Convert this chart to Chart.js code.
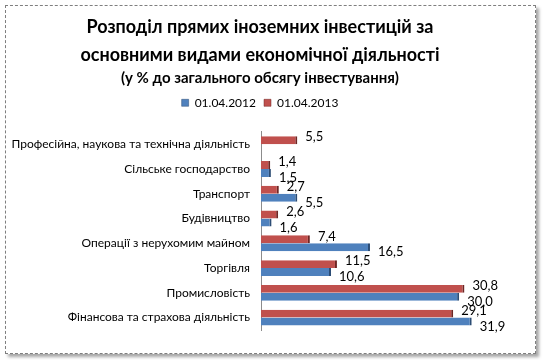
<!DOCTYPE html>
<html>
<head>
<meta charset="utf-8">
<script src="https://cdn.jsdelivr.net/npm/chart.js@4"></script>
<style>
  body { margin: 0; background: #fff; }
  #frame {
    position: absolute; left: 5px; top: 5px; width: 529px; height: 347px;
    border: 1px dashed #7f7f7f; box-shadow: 3px 3px 3px rgba(0,0,0,0.35); background: #fff;
  }
  canvas { display: block; }
</style>
</head>
<body>
<div id="frame"><canvas id="chart" width="529" height="347"></canvas></div>
<script>
const categories = [
    'Професійна, наукова та технічна діяльність',
    'Сільське господарство',
    'Транспорт',
    'Будівництво',
    'Операції з нерухомим майном',
    'Торгівля',
    'Промисловість',
    'Фінансова та страхова діяльність'
];
const values2012 = [null, 1.5, 5.5, 1.6, 16.5, 10.6, 30.0, 31.9];
const values2013 = [5.5, 1.4, 2.7, 2.6, 7.4, 11.5, 30.8, 29.1];
const seriesNames = ['01.04.2012', '01.04.2013'];

const fontFamily = 'Lato, "DejaVu Sans", sans-serif';

// підписи значень праворуч від смуг
const valueLabels = {
    id: 'valueLabels',
    afterDatasetsDraw(chart) {
        const ctx = chart.ctx;
        ctx.save();
        ctx.font = '13px ' + fontFamily;
        ctx.fillStyle = '#000';
        ctx.textBaseline = 'middle';
        ctx.textAlign = 'left';
        chart.data.datasets.forEach((ds, i) => {
            const meta = chart.getDatasetMeta(i);
            const dy = ds.label === seriesNames[0] ? 5 : -3;
            meta.data.forEach((bar, j) => {
                const v = ds.data[j];
                if (v == null) return;
                ctx.fillText(v.toFixed(1).replace('.', ','), bar.x + 8, bar.y + dy);
            });
        });
        ctx.restore();
    }
};

// трохи місця під легендою
const legendGap = {
    id: 'legendGap',
    beforeInit(chart) {
        const fit = chart.legend.fit;
        chart.legend.fit = function () {
            fit.bind(chart.legend)();
            this.height += 13;
        };
    }
};

new Chart(document.getElementById('chart').getContext('2d'), {
    type: 'bar',
    data: {
        labels: categories,
        datasets: [
            {
                label: seriesNames[1],
                data: values2013,
                backgroundColor: '#c0504d',
                borderColor: '#6e2624',
                borderWidth: { top: 0, right: 2, bottom: 0, left: 0 },
                borderSkipped: false
            },
            {
                label: seriesNames[0],
                data: values2012,
                backgroundColor: '#4f81bd',
                borderColor: '#2c4d75',
                borderWidth: { top: 0, right: 2, bottom: 0, left: 0 },
                borderSkipped: false
            }
        ]
    },
    options: {
        indexAxis: 'y',
        responsive: false,
        animation: false,
        categoryPercentage: 0.64,
        barPercentage: 1,
        layout: { padding: { left: 2, right: 23, top: 5, bottom: 23 } },
        plugins: {
            title: {
                display: true,
                text: ['Розподіл прямих іноземних інвестицій за', 'основними видами економічної діяльності'],
                color: '#000',
                font: { family: fontFamily, size: 18, weight: 'bold', lineHeight: 1.55 },
                padding: { top: 2, bottom: 0 }
            },
            subtitle: {
                display: true,
                text: '(у % до загального обсягу інвестування)',
                color: '#000',
                font: { family: fontFamily, size: 15, weight: 'bold' },
                padding: { top: 0, bottom: 2 }
            },
            legend: {
                position: 'top',
                labels: {
                    boxWidth: 7,
                    boxHeight: 7,
                    color: '#000',
                    font: { family: fontFamily, size: 12 },
                    padding: 8,
                    sort: (a, b) => b.datasetIndex - a.datasetIndex
                }
            },
            tooltip: { enabled: false }
        },
        scales: {
            x: {
                display: false,
                min: 0,
                max: 38
            },
            y: {
                afterFit: (scale) => { scale.width = 253; },
                grid: { display: false },
                border: { display: true, color: '#8c8c8c' },
                ticks: {
                    color: '#000',
                    font: { family: fontFamily, size: 12 },
                    padding: 3
                }
            }
        }
    },
    plugins: [valueLabels, legendGap]
});
</script>
</body>
</html>
